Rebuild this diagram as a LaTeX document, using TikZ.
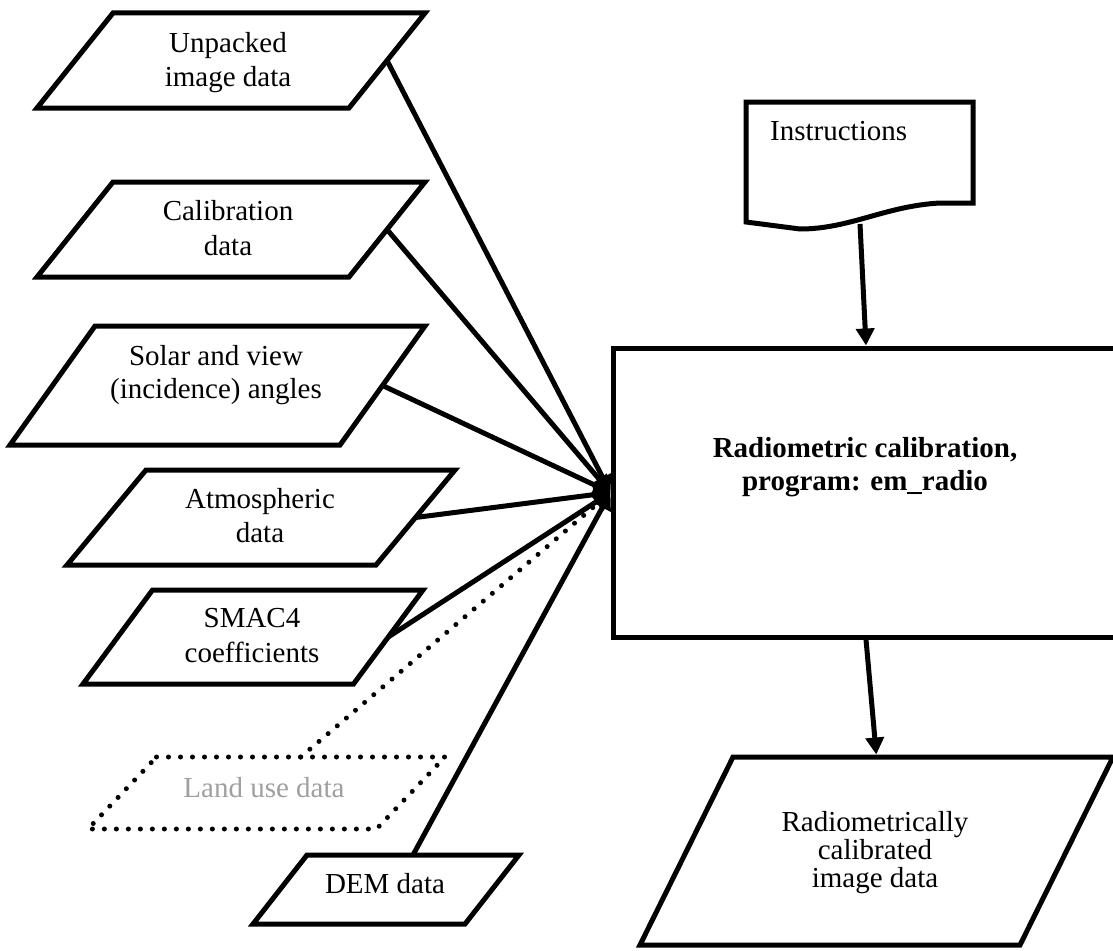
\documentclass[tikz,border=0pt]{standalone}
\usepackage{fontspec}
\setmainfont{Liberation Serif}
\usetikzlibrary{arrows.meta,calc}
\definecolor{landgray}{RGB}{160,160,160}

% outline of a data set: parallelogram inside the node's box, top side shifted right by #3
\newcommand{\dataoutline}[3][]{%
  \draw[shapeline,#1] ([xshift=#3]#2.north west) -- (#2.north east)
    -- ([xshift=-#3]#2.south east) -- (#2.south west) -- cycle;}

\begin{document}
\begin{tikzpicture}[x=1pt,y=-1pt,
  every node/.style={font=\fontsize{29}{34}\selectfont},
  databox/.style={rectangle, inner sep=0pt, outer sep=0pt},
  shapeline/.style={line width=5pt, line join=miter},
  dotline/.style={line width=5pt, dash pattern=on 0pt off 12pt, line cap=round},
  txt/.style={align=center, inner sep=0pt},
  flow/.style={line width=5pt, -{Triangle[length=17pt,width=18pt]}},
]
\useasboundingbox (0,0) rectangle (1113,950);
\fill[white] (0,0) rectangle (1113,950);
\clip (0,0) rectangle (1113,950);

% process box (runs past the right edge)
\node[draw, line width=5pt, minimum width=506pt, minimum height=289pt,
      inner sep=0pt, outer sep=2.5pt] (proc) at (866,492.5) {};
\node[txt, font=\fontsize{29}{33}\selectfont\bfseries] (proc-t) at (865,467)
  {Radiometric calibration,\\program: em\_radio};

% input data sets
\node[databox, minimum width=388pt, minimum height=95pt] (unp) at (231,60.5) {};
\dataoutline{unp}{76pt}
\node[txt] (unp-t) at (228,63) {Unpacked\\image data};

\node[databox, minimum width=388pt, minimum height=95pt] (cal) at (231,229.5) {};
\dataoutline{cal}{76pt}
\node[txt, font=\fontsize{29}{35}\selectfont] (cal-t) at (228,228) {Calibration\\data};

\node[databox, minimum width=415pt, minimum height=119pt] (sol) at (217.5,385.5) {};
\dataoutline{sol}{85pt}
\node[txt, font=\fontsize{29}{33}\selectfont] (sol-t) at (216,375) {Solar and view\\(incidence) angles};

\node[databox, minimum width=388pt, minimum height=95pt] (atm) at (261,517.5) {};
\dataoutline{atm}{79pt}
\node[txt] (atm-t) at (260,515.5) {Atmospheric\\data};

\node[databox, minimum width=340pt, minimum height=94pt] (smac) at (253,637) {};
\dataoutline{smac}{69.5pt}
\node[txt, font=\fontsize{29}{35}\selectfont] (smac-t) at (252,636) {SMAC4\\coefficients};

\node[databox, minimum width=357pt, minimum height=72pt] (land) at (266.5,793) {};
\dataoutline[dotline]{land}{68.5pt}
\node[txt, text=landgray, anchor=base] (land-t) at (264,797) {Land use data};

\node[databox, minimum width=266pt, minimum height=69pt] (dem) at (386,889.5) {};
\dataoutline{dem}{54pt}
\node[txt, anchor=base] (dem-t) at (385,893) {DEM data};

% instructions document
\draw[shapeline] (746,102) -- (973,102) -- (973,203) -- (940,203)
  .. controls (885,206) and (850,229) .. (800,229) -- (746,222) -- cycle;
\node[txt, anchor=base west] (ins) at (770,140) {Instructions};
\coordinate (ins-b) at (860,224);

% output data set
\node[databox, minimum width=473pt, minimum height=188pt] (out) at (876.5,851) {};
\dataoutline{out}{93pt}
\node[txt, font=\fontsize{29}{28}\selectfont] (out-t) at (875,853)
  {Radiometrically\\calibrated\\image data};

% connectors
\draw[flow] ([xshift=-38pt]unp.east) -- (proc.west);
\draw[flow] ([xshift=-38pt]cal.east) -- (proc.west);
\draw[flow] ([xshift=-42.5pt]sol.east) -- (proc.west);
\draw[flow] ([xshift=-39.5pt]atm.east) -- (proc.west);
\draw[flow] ([xshift=-34.75pt]smac.east) -- (proc.west);
\draw[flow, dotline] ([xshift=34.25pt]land.north) -- (proc.west);
\draw[flow] ([xshift=27pt]dem.north) -- (proc.west);
\draw[flow] (ins-b) -- (proc.north);
\draw[flow, shorten >=2.5pt] (proc.south) -- (out.north);
\end{tikzpicture}
\end{document}
